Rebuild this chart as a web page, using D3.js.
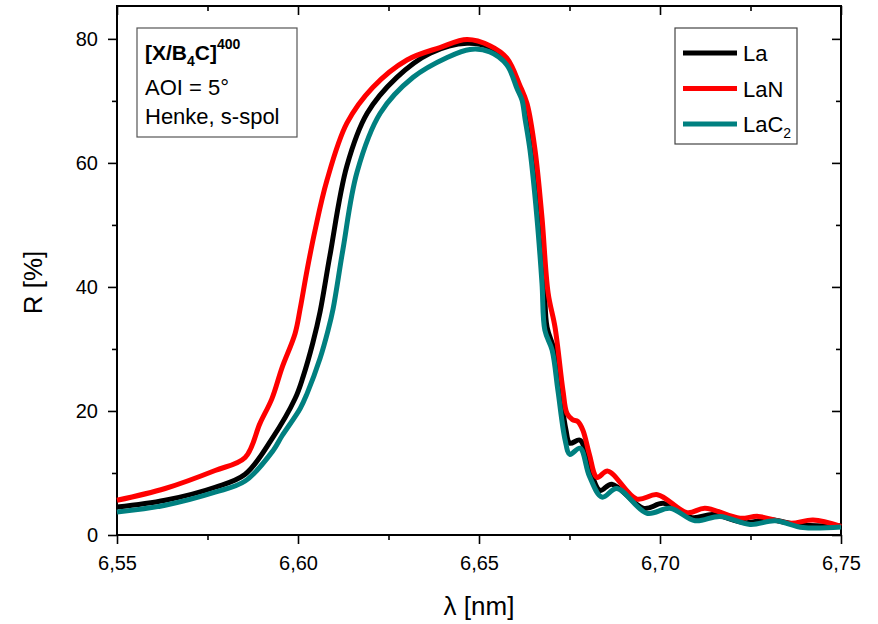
<!DOCTYPE html>
<html>
<head>
<meta charset="utf-8">
<script src="https://cdn.jsdelivr.net/npm/d3@7"></script>
<style>
  body { margin: 0; background: #fff; }
  text { font-family: "Liberation Sans", Arial, sans-serif; }
</style>
</head>
<body>
<div id="chart"></div>
<script>
// wavelength (nm) and reflectivity (%)
var waveLa = [6.550, 6.5633, 6.5771, 6.5854, 6.5928, 6.5992, 6.6014, 6.6041, 6.6061, 6.6088, 6.6135, 6.6191, 6.6273, 6.6365, 6.6467,
  6.6530, 6.6577, 6.6610, 6.6625, 6.6647, 6.6666, 6.6680, 6.6688, 6.6708, 6.6724, 6.6740, 6.6751, 6.6779, 6.6805, 6.6834, 6.6867,
  6.6955, 6.7010, 6.7088, 6.7146, 6.7235, 6.7300, 6.7387, 6.750];
var reflLa = [4.5, 5.6, 7.7, 9.8, 15.5, 22.0, 25.5, 31.0, 36.0, 45.0, 59.5, 68.0, 73.8, 77.7, 79.3,
  78.6, 76.4, 71.8, 70.1, 62.0, 51.2, 40.6, 33.5, 29.8, 23.3, 17.0, 14.8, 15.3, 11.0, 7.2, 8.2,
  4.3, 5.1, 2.8, 3.3, 2.0, 2.5, 1.6, 1.5];

var waveLaN = [6.550, 6.5633, 6.5771, 6.5854, 6.5895, 6.5928, 6.5956, 6.5992, 6.6006, 6.6025, 6.6047, 6.6080, 6.6135, 6.6207, 6.6301,
  6.6392, 6.6467, 6.6530, 6.6577, 6.6613, 6.6633, 6.6655, 6.6674, 6.6691, 6.6710, 6.6732, 6.6743, 6.6758, 6.6773, 6.6787, 6.6805,
  6.6826, 6.6856, 6.6936, 6.6993, 6.7075, 6.7124, 6.7221, 6.7271, 6.7359, 6.7423, 6.750];
var reflLaN = [5.6, 7.5, 10.4, 12.5, 18.0, 22.0, 27.0, 32.5, 36.5, 42.7, 49.1, 57.2, 66.4, 72.2, 76.6,
  78.6, 79.9, 78.9, 76.9, 72.5, 69.5, 62.0, 51.2, 39.0, 33.5, 23.3, 19.6, 18.6, 18.3, 16.9, 13.0,
  9.3, 10.3, 5.8, 6.5, 3.6, 4.3, 2.7, 3.0, 1.9, 2.4, 1.4];

var waveLaC2 = [6.550, 6.5633, 6.5771, 6.5854, 6.5931, 6.5956, 6.6006, 6.6025, 6.6061, 6.6083, 6.6097, 6.6124, 6.6163, 6.6227, 6.6318,
  6.6412, 6.6475, 6.6530, 6.6577, 6.6605, 6.6619, 6.6627, 6.6641, 6.6660, 6.6674, 6.6682, 6.6702, 6.6718, 6.6738, 6.6751, 6.6779,
  6.6805, 6.6840, 6.6881, 6.6964, 6.7028, 6.7097, 6.7166, 6.7249, 6.7318, 6.7395, 6.750];
var reflLaC2 = [3.7, 4.8, 6.9, 8.7, 13.6, 16.0, 20.4, 22.8, 28.5, 33.0, 36.5, 46.0, 58.5, 68.0, 73.8,
  77.0, 78.3, 77.9, 75.8, 72.0, 70.1, 67.2, 62.0, 51.2, 40.6, 33.0, 29.8, 23.3, 15.3, 13.0, 14.0,
  9.5, 6.1, 7.5, 3.5, 4.3, 2.3, 3.0, 1.7, 2.3, 1.2, 1.3];

var seriesNames = ["La", "LaN", "LaC2"];
var seriesColors = ["#000000", "#ff0000", "#008080"];
var xMajor = [6.55, 6.60, 6.65, 6.70, 6.75];
var xMinor = [6.575, 6.625, 6.675, 6.725];
var yMajor = [0, 20, 40, 60, 80];
var yMinor = [10, 30, 50, 70];

var margin = {top: 6, right: 37, bottom: 89, left: 117},
    width = 878 - margin.left - margin.right,
    height = 624 - margin.top - margin.bottom;

var svg = d3.select("#chart")
  .append("svg")
    .attr("width", 878)
    .attr("height", 624)
  .append("g")
    .attr("transform", "translate(" + margin.left + "," + margin.top + ")");

var x = d3.scaleLinear().domain([6.55, 6.75]).range([0, width]);
var y = d3.scaleLinear().domain([0, 85.3]).range([height, 0]);

var fmtX = function(d) { return d3.format(".2f")(d).replace(".", ","); };

// bottom and left axes: ticks outward
svg.append("g").attr("class", "ax")
  .attr("transform", "translate(0," + height + ")")
  .call(d3.axisBottom(x).tickValues(xMajor).tickSize(9).tickPadding(12).tickFormat(fmtX));
svg.append("g").attr("class", "ax")
  .attr("transform", "translate(0," + height + ")")
  .call(d3.axisBottom(x).tickValues(xMinor).tickSize(5).tickFormat(""));
svg.append("g").attr("class", "ax")
  .call(d3.axisLeft(y).tickValues(yMajor).tickSize(9).tickPadding(10));
svg.append("g").attr("class", "ax")
  .call(d3.axisLeft(y).tickValues(yMinor).tickSize(5).tickFormat(""));

// top and right axes: ticks inward
svg.append("g").attr("class", "ax")
  .call(d3.axisTop(x).tickValues(xMajor).tickSize(-9).tickFormat(""));
svg.append("g").attr("class", "ax")
  .call(d3.axisTop(x).tickValues(xMinor).tickSize(-5).tickFormat(""));
svg.append("g").attr("class", "ax")
  .attr("transform", "translate(" + width + ",0)")
  .call(d3.axisRight(y).tickValues(yMajor).tickSize(-9).tickFormat(""));
svg.append("g").attr("class", "ax")
  .attr("transform", "translate(" + width + ",0)")
  .call(d3.axisRight(y).tickValues(yMinor).tickSize(-5).tickFormat(""));

svg.selectAll(".ax .domain").remove();
svg.selectAll(".ax line").attr("stroke", "#000").attr("stroke-width", 1.6);
svg.selectAll(".ax text").attr("font-size", 20).attr("fill", "#000")
  .attr("font-family", "Liberation Sans, Arial, sans-serif");

// frame
svg.append("rect")
  .attr("width", width).attr("height", height)
  .attr("fill", "none").attr("stroke", "#000").attr("stroke-width", 2);

// curves
var seriesData = [
  d3.zip(waveLa, reflLa),
  d3.zip(waveLaN, reflLaN),
  d3.zip(waveLaC2, reflLaC2)
];
var line = d3.line()
  .x(function(d) { return x(d[0]); })
  .y(function(d) { return y(d[1]); })
  .curve(d3.curveCatmullRom.alpha(0.5));

svg.selectAll(".curve")
  .data(seriesData)
  .enter().append("path")
    .attr("class", "curve")
    .attr("d", line)
    .attr("fill", "none")
    .attr("stroke", function(d, i) { return seriesColors[i]; })
    .attr("stroke-width", 5)
    .attr("stroke-linejoin", "round");

// axis titles
svg.append("text")
  .attr("x", width / 2).attr("y", height + 80)
  .attr("text-anchor", "middle").attr("font-size", 26)
  .text("λ [nm]");
svg.append("text")
  .attr("transform", "translate(-75," + (height / 2 + 12) + ") rotate(-90)")
  .attr("text-anchor", "middle").attr("font-size", 26)
  .text("R [%]");

// annotation box
var note = svg.append("g").attr("transform", "translate(20,22)");
note.append("rect")
  .attr("width", 160).attr("height", 109)
  .attr("fill", "#fff").attr("stroke", "#555").attr("stroke-width", 1.2);
var t1 = note.append("text").attr("x", 8).attr("y", 32)
  .attr("font-size", 21).attr("font-weight", "bold");
t1.append("tspan").text("[X/B");
t1.append("tspan").attr("font-size", 14).attr("dy", 6).text("4");
t1.append("tspan").attr("dy", -6).text("C]");
t1.append("tspan").attr("font-size", 14).attr("dy", -11).text("400");
note.append("text").attr("x", 8).attr("y", 67).attr("font-size", 22).text("AOI = 5°");
note.append("text").attr("x", 8).attr("y", 96).attr("font-size", 22).text("Henke, s-spol");

// legend
var leg = svg.append("g").attr("transform", "translate(" + (width - 166) + ",22)");
leg.append("rect")
  .attr("width", 122).attr("height", 116)
  .attr("fill", "#fff").attr("stroke", "#444").attr("stroke-width", 1.2);
var rows = leg.selectAll(".row")
  .data(seriesNames)
  .enter().append("g")
    .attr("transform", function(d, i) { return "translate(0," + (25 + i * 35.5) + ")"; });
rows.append("line")
  .attr("x1", 8).attr("x2", 62)
  .attr("stroke", function(d, i) { return seriesColors[i]; })
  .attr("stroke-width", 5);
var lt = rows.append("text").attr("x", 68).attr("y", 8).attr("font-size", 22);
lt.append("tspan").text(function(d) { return d === "LaC2" ? "LaC" : d; });
lt.filter(function(d) { return d === "LaC2"; })
  .append("tspan").attr("font-size", 14).attr("dy", 6).text("2");
</script>
</body>
</html>
